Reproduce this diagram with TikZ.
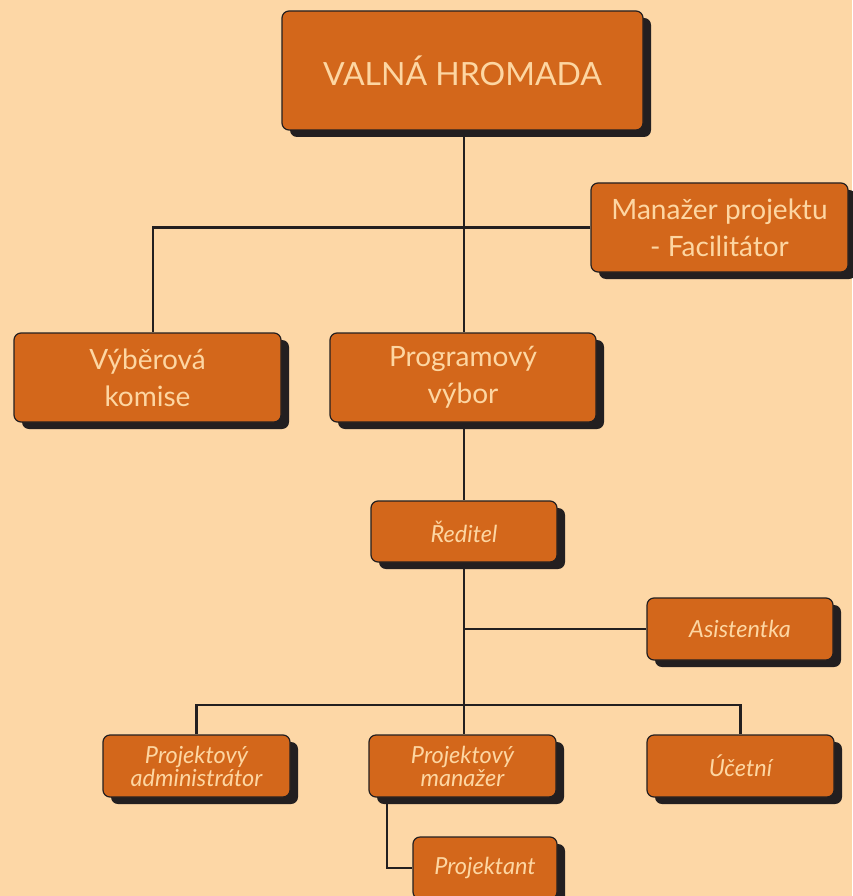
\documentclass[tikz,border=0pt]{standalone}
\usepackage{fontspec}
\setmainfont{Lato}
\usetikzlibrary{shadows,backgrounds}
\definecolor{bgc}{HTML}{FDD7A6}
\definecolor{boxc}{HTML}{D3671B}
\definecolor{txtc}{HTML}{FDD6A2}
\definecolor{shadc}{HTML}{231F20}
\tikzset{
  orgbox/.style={draw=shadc, line width=1.2pt, fill=boxc, rounded corners=7pt,
    text=txtc, align=center, inner sep=0pt,
    drop shadow={shadow xshift=8pt, shadow yshift=-7pt, fill=shadc, opacity=1}},
  bigtxt/.style={font=\fontsize{32}{38}\selectfont},
  midtxt/.style={font=\fontsize{28}{37}\selectfont},
  smalltxt/.style={font=\fontsize{23.5}{23}\selectfont\itshape},
  conn/.style={draw=shadc, line width=2.6pt}
}
\begin{document}
\begin{tikzpicture}[x=1pt,y=-1pt]
\useasboundingbox (0,0) rectangle (852,896);
\node[orgbox,bigtxt,minimum width=361pt,minimum height=119pt] (vh) at (462.5,70.5) {VALNÁ HROMADA};
\node[orgbox,midtxt,minimum width=257pt,minimum height=89pt] (mp) at (719.5,227.5) {Manažer projektu\\- Facilitátor};
\node[orgbox,midtxt,minimum width=267pt,minimum height=89pt] (vk) at (147.5,377.5) {Výběrová\\komise};
\node[orgbox,midtxt,minimum width=266pt,minimum height=89pt] (pv) at (463,377.5) {Programový\\výbor};
\node[orgbox,smalltxt,minimum width=186pt,minimum height=61pt] (red) at (464,531.5) {Ředitel};
\node[orgbox,smalltxt,minimum width=186pt,minimum height=62pt] (as) at (740,629) {Asistentka};
\node[orgbox,smalltxt,minimum width=187pt,minimum height=62pt] (pa) at (196.5,766) {Projektový\\administrátor};
\node[orgbox,smalltxt,minimum width=187pt,minimum height=62pt] (pm) at (462.5,766) {Projektový\\manažer};
\node[orgbox,smalltxt,minimum width=187pt,minimum height=62pt] (uc) at (740.5,766) {Účetní};
\node[orgbox,smalltxt,minimum width=144pt,minimum height=62pt] (pj) at (485,868) {Projektant};
\coordinate (jn) at (464,705);
\begin{pgfonlayer}{background}
\fill[bgc] (0,0) rectangle (852,896);
\draw[conn] (jn |- vh.south) -- (jn |- pv.north);
\draw[conn] (mp.west) -| ([xshift=5.5pt]vk.north);
\draw[conn] (jn |- pv.south) -- (jn |- red.north);
\draw[conn] (jn |- red.south) -- (jn |- pm.north);
\draw[conn] (as.west) -- (as.west -| jn);
\draw[conn] (pa.north) |- (jn) -| (uc.north);
\draw[conn] ([xshift=-75.5pt]pm.south) |- (pj.west);
\end{pgfonlayer}
\end{tikzpicture}
\end{document}
